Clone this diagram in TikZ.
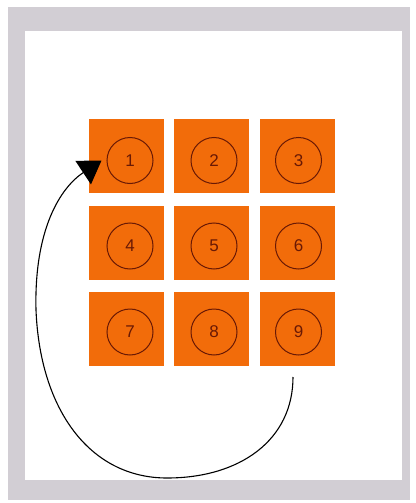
\documentclass[tikz,border=0pt]{standalone}
\usepackage{fontspec}
\setmainfont{Liberation Sans}
\usetikzlibrary{arrows.meta}
\definecolor{framegray}{RGB}{210,206,212}
\definecolor{tile}{RGB}{242,108,10}
\definecolor{ink}{RGB}{105,25,5}
\begin{document}
\begin{tikzpicture}[x=1pt,y=-1pt,
  tilebox/.style={rectangle,fill=tile,minimum width=75pt,minimum height=74pt,inner sep=0pt},
  numcirc/.style={circle,draw=ink,line width=1pt,minimum size=46pt,inner sep=0pt,text=ink,font=\fontsize{17}{17}\selectfont},
  loop/.style={draw=black,line width=1.1pt,-{Triangle[length=22pt,width=28pt]}}]
\useasboundingbox (0,0) rectangle (415,503);
\fill[white] (0,0) rectangle (415,503);
\fill[framegray] (8,7) rectangle (410,500);
\fill[white] (25,31) rectangle (402,480);
% tiles
\foreach \i/\x/\y in {1/126.5/156,2/211.5/156,3/297/156,4/126.5/242.5,5/211.5/242.5,6/297/242.5,7/126.5/329,8/211.5/329,9/297/329}
  \node[tilebox] (t\i) at (\x,\y) {};
% circles
\foreach \i/\x/\y in {1/130/160.5,2/214/160.5,3/298.5/160.5,4/130/246,5/214/246,6/298.5/246,7/130/332,8/214/332,9/298.5/332}
  \node[numcirc] (c\i) at (\x,\y) {\i};
\coordinate (s) at (293,377);
\draw[loop] (s) .. controls (293,440) and (240,478) .. (167,478)
  .. controls (90,478) and (40,410) .. (36,310)
  .. controls (34,230) and (60,188) .. ([xshift=-5pt]c1.west);
\end{tikzpicture}
\end{document}
